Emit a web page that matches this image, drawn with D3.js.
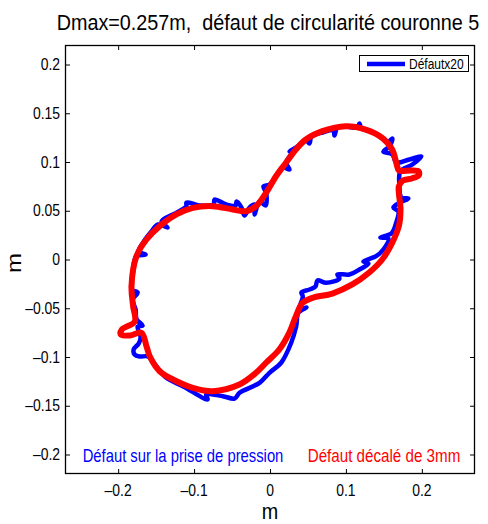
<!DOCTYPE html>
<html><head><meta charset="utf-8">
<script src="https://cdn.jsdelivr.net/npm/d3@7"></script>
<style>body{margin:0;background:#fff}svg{display:block}text{font-family:"Liberation Sans",Arial,sans-serif;white-space:pre}</style>
</head><body><svg id="c" width="488" height="524"></svg>
<script>
// ---- data (metres) ----
const titleText = "Dmax=0.257m,  défaut de circularité couronne 5";
const xTicks = [-0.2, -0.1, 0, 0.1, 0.2];
const yTicks = [-0.2, -0.15, -0.1, -0.05, 0, 0.05, 0.1, 0.15, 0.2];
const xDomain = [-0.27, 0.27];
const yDomain = [-0.22, 0.22];
const legendLabel = "Défautx20";
const blueLabel = "Défaut sur la prise de pression";
const redLabel = "Défaut décalé de 3mm";
const axisLabel = "m";

// blue: "Défaut sur la prise de pression" (x20)
const blueX = [0.1003,0.1151,0.1178,0.1204,0.1336,0.148,0.1546,0.1612,0.1572,0.1493,0.1612,0.1664,0.1836,0.1993,0.1875,0.1717,0.1704,0.173,0.1822,0.1717,0.1625,0.1691,0.1661,0.1599,0.1454,0.1559,0.1493,0.1397,0.123,0.1296,0.1178,0.1046,0.0888,0.0914,0.0739,0.0625,0.0599,0.052,0.0414,0.0432,0.0388,0.048,0.0375,0.0345,0.0279,0.0147,-0.0007,-0.0138,-0.0401,-0.0467,-0.0621,-0.0839,-0.0822,-0.1147,-0.1366,-0.1497,-0.1608,-0.1717,-0.1783,-0.1796,-0.173,-0.1704,-0.1743,-0.1678,-0.1757,-0.177,-0.1809,-0.1743,-0.1822,-0.1805,-0.1761,-0.1638,-0.173,-0.1674,-0.1572,-0.1476,-0.1349,-0.1428,-0.1234,-0.1103,-0.1099,-0.0928,-0.0743,-0.073,-0.0576,-0.0454,-0.0441,-0.0375,-0.0336,-0.027,-0.0204,-0.0204,-0.0138,-0.0059,-0.005,-0.0086,-0.0007,0.0082,0.0164,0.0257,0.0213,0.03,0.0257,0.0345,0.0476,0.052,0.0546,0.0695,0.0836,0.0849,0.0888];
const blueY = [0.1364,0.1354,0.1395,0.1344,0.1313,0.1241,0.12,0.1241,0.1159,0.1108,0.1077,0.0995,0.1026,0.1056,0.0974,0.0903,0.0769,0.0636,0.0626,0.0585,0.0533,0.0492,0.0376,0.0267,0.0226,0.0215,0.0103,0.0034,-0.0021,-0.0041,-0.0103,-0.0154,-0.0154,-0.0195,-0.0239,-0.0215,-0.0277,-0.0308,-0.0338,-0.0379,-0.0513,-0.0492,-0.0544,-0.0684,-0.0854,-0.1059,-0.1162,-0.1265,-0.1367,-0.1426,-0.1402,-0.1385,-0.1436,-0.1299,-0.1213,-0.1094,-0.0995,-0.0995,-0.0974,-0.0923,-0.0862,-0.08,-0.0687,-0.0677,-0.0615,-0.0513,-0.041,-0.0338,-0.0308,-0.0136,0.0034,0.0051,0.0082,0.0171,0.0277,0.0359,0.0328,0.039,0.0479,0.0544,0.0585,0.0554,0.0564,0.0615,0.0564,0.0554,0.0595,0.0533,0.0451,0.0533,0.0564,0.0462,0.0595,0.0554,0.0684,0.0749,0.0769,0.0854,0.0944,0.0923,0.0992,0.1108,0.1108,0.1149,0.1221,0.119,0.1262,0.1303,0.1323,0.1272,0.1354];

// red: "Défaut décalé de 3mm"
const redX = [0.0997,0.126,0.1478,0.1609,0.1675,0.1697,0.1854,0.1959,0.1959,0.1867,0.1749,0.1697,0.1697,0.1719,0.1697,0.1609,0.1478,0.1303,0.1084,0.0822,0.0559,0.0428,0.0341,0.0253,0.0122,-0.0052,-0.0184,-0.0403,-0.0753,-0.1016,-0.1278,-0.1453,-0.1584,-0.1627,-0.1693,-0.1846,-0.1965,-0.1951,-0.1781,-0.1803,-0.1824,-0.1759,-0.1627,-0.1453,-0.1234,-0.1016,-0.0753,-0.0491,-0.0315,-0.0184,-0.0052,0.0079,0.021,0.0341,0.0472,0.069];
const redY = [0.1367,0.1333,0.1248,0.1128,0.0957,0.0913,0.0913,0.0903,0.0862,0.0831,0.081,0.0749,0.0684,0.0513,0.0342,0.0171,0,-0.0136,-0.0256,-0.0349,-0.0393,-0.0444,-0.0582,-0.0752,-0.0923,-0.1059,-0.1162,-0.1282,-0.1351,-0.1316,-0.1231,-0.1146,-0.0992,-0.0889,-0.0752,-0.0779,-0.0769,-0.0718,-0.0636,-0.0479,-0.0274,0.0034,0.0205,0.0342,0.0462,0.053,0.0547,0.0513,0.0495,0.0547,0.0684,0.0854,0.0992,0.1128,0.1231,0.1316];

// ---- layout ----
const m = {l: 65, t: 45, w: 410, h: 429};
const svg = d3.select("#c");
const x = d3.scaleLinear().domain(xDomain).range([m.l, m.l + m.w]);
const y = d3.scaleLinear().domain(yDomain).range([m.t + m.h, m.t]);

function txt(g, s, px, py, size, anchor, color, sq) {
  return g.append("text")
    .attr("transform", `translate(${px},${py}) scale(${sq},1)`)
    .attr("xml:space", "preserve")
    .attr("text-anchor", anchor).attr("font-size", size).attr("fill", color || "#000").text(s);
}

svg.append("rect").attr("x", m.l).attr("y", m.t).attr("width", m.w).attr("height", m.h).attr("fill", "#fff");

// curves
const line = d3.line().x(d => x(d[0])).y(d => y(d[1])).curve(d3.curveCatmullRomClosed.alpha(0.5));
const blue = blueX.map((v, i) => [v, blueY[i]]);
const red = redX.map((v, i) => [v, redY[i]]);
const plotG = svg.append("g");
plotG.append("path").attr("d", line(blue)).attr("fill", "none").attr("stroke", "#0000ff")
  .attr("stroke-width", 4.5).attr("stroke-linejoin", "round").attr("stroke-linecap", "round");
plotG.append("path").attr("d", line(red)).attr("fill", "none").attr("stroke", "#ff0000")
  .attr("stroke-width", 6).attr("stroke-linejoin", "round").attr("stroke-linecap", "round");

// axes (ticks inward on all sides)
const fmt = d => (d < 0 ? "\u2013" : "") + d3.format("")(Math.abs(+d.toFixed(2)));
const axB = d3.axisBottom(x).tickValues(xTicks).tickSize(-5).tickFormat("");
const axT = d3.axisTop(x).tickValues(xTicks).tickSize(-5).tickFormat("");
const axL = d3.axisLeft(y).tickValues(yTicks).tickSize(-5).tickFormat("");
const axR = d3.axisRight(y).tickValues(yTicks).tickSize(-5).tickFormat("");
function style(g) {
  g.select(".domain").remove();
  g.selectAll("line").attr("stroke", "#000").attr("stroke-width", 1);
}
[[axB, `translate(0,${m.t + m.h})`], [axT, `translate(0,${m.t})`],
 [axL, `translate(${m.l},0)`], [axR, `translate(${m.l + m.w},0)`]]
  .forEach(([ax, tr]) => svg.append("g").attr("transform", tr).call(ax).call(style));
const labG = svg.append("g");
xTicks.forEach(v => txt(labG, fmt(v), x(v), m.t + m.h + 21.5, 16, "middle", "#000", 0.87));
yTicks.forEach(v => txt(labG, fmt(v), m.l - 5, y(v) + 5.5, 16, "end", "#000", 0.87));

svg.append("rect").attr("x", m.l + 0.5).attr("y", m.t + 0.5).attr("width", m.w - 1).attr("height", m.h - 1)
  .attr("fill", "none").attr("stroke", "#000").attr("stroke-width", 1.3);

// title and axis labels
txt(svg, titleText, 268, 30, 22, "middle", "#000", 0.9);
txt(svg, axisLabel, 270, 519, 22, "middle", "#000", 0.9);
svg.append("text").attr("transform", `translate(21,263) rotate(-90) scale(1,0.85)`)
  .attr("text-anchor", "middle").attr("font-size", 24).text(axisLabel);

// in-plot annotations
txt(svg, blueLabel, 183, 462, 18.5, "middle", "#0000ff", 0.8);
txt(svg, redLabel, 384, 462, 18.5, "middle", "#ff0000", 0.82);

// legend
const lg = svg.append("g");
lg.append("rect").attr("x", 359.5).attr("y", 55.5).attr("width", 109).attr("height", 16)
  .attr("fill", "#fff").attr("stroke", "#000").attr("stroke-width", 1);
lg.append("line").attr("x1", 367).attr("x2", 405).attr("y1", 64).attr("y2", 64)
  .attr("stroke", "#0000ff").attr("stroke-width", 4.5);
txt(lg, legendLabel, 409, 68.5, 15, "start", "#000", 0.8);
</script></body></html>
